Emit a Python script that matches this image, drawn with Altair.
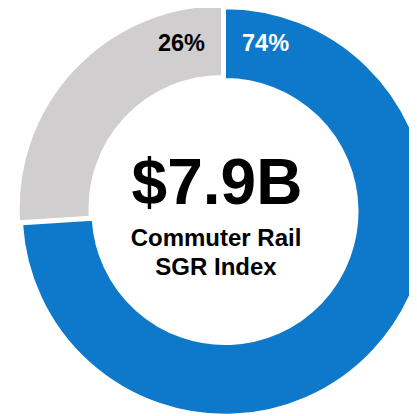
import altair as alt
import pandas as pd

# data
segments = ["Not in SGR", "Backlog"]
shares = [74, 26]
share_labels = ["74%", "26%"]
seg_colors = ["#0E79CA", "#D0CECF"]
label_colors = ["#FFFFFF", "#000000"]
headline = ["$7.9B"]
subtitle = ["Commuter Rail", "SGR Index"]

W, H = 401, 406
CX, CY = 217, 203.5          # donut centre (chart coords)
EXPLODE = [(0, 0), (-3, -3)]  # small pull-out of the grey slice
LABEL_DX = [17, -17]
FONT = "Liberation Sans"

df = pd.DataFrame({"segment": segments, "share": shares, "label": share_labels,
                   "order": [0, 1]})

base = alt.Chart(df).transform_joinaggregate(
    total="sum(share)"
).transform_window(
    cum="sum(share)", sort=[alt.SortField("order")]
).transform_calculate(
    t1="2 * PI * datum.cum / datum.total",
    t0="2 * PI * (datum.cum - datum.share) / datum.total",
)

layers = []
for i, seg in enumerate(segments):
    ex, ey = EXPLODE[i]
    sub_base = base.transform_filter(alt.datum.segment == seg)
    layers.append(sub_base.mark_arc(
        radius=203.3, radius2=132.5, stroke="white", strokeWidth=2
    ).encode(
        theta=alt.Theta("t0:Q", scale=None),
        theta2="t1:Q",
        color=alt.Color("segment:N", scale=alt.Scale(domain=segments, range=seg_colors), legend=None),
        x=alt.value(CX + ex), y=alt.value(CY + ey),
    ))

for i, seg in enumerate(segments):
    ex, ey = EXPLODE[i]
    layers.append(base.transform_filter(alt.datum.segment == seg).mark_text(
        align="left" if LABEL_DX[i] > 0 else "right", baseline="alphabetic",
        font=FONT, fontWeight="bold", fontSize=23.5, color=label_colors[i],
        dx=LABEL_DX[i]
    ).encode(text="label:N", x=alt.value(CX + ex), y=alt.value(CY - 160.5)))

head_df = pd.DataFrame({"t": headline})
layers.append(alt.Chart(head_df).mark_text(
    align="center", baseline="alphabetic", font=FONT, fontWeight="bold", fontSize=64,
    color="black", dx=-8, dy=-8
).encode(text="t:N", x=alt.value(CX), y=alt.value(CY)))

sub_df = pd.DataFrame({"t": subtitle, "i": [0, 1]})
layers.append(alt.Chart(sub_df).transform_calculate(
    py=f"{CY + 34.5} + datum.i * 29"
).mark_text(
    align="center", baseline="alphabetic", font=FONT, fontWeight="bold", fontSize=24,
    color="black", dx=-9
).encode(text="t:N", x=alt.value(CX), y=alt.Y("py:Q", scale=None, axis=None)))

chart = alt.layer(*layers).properties(
    width=W, height=H, padding=0,
    autosize=alt.AutoSizeParams(type="none"),
).configure_view(stroke=None)

chart.save("out.html", embed_options={"renderer": "svg", "actions": False})
